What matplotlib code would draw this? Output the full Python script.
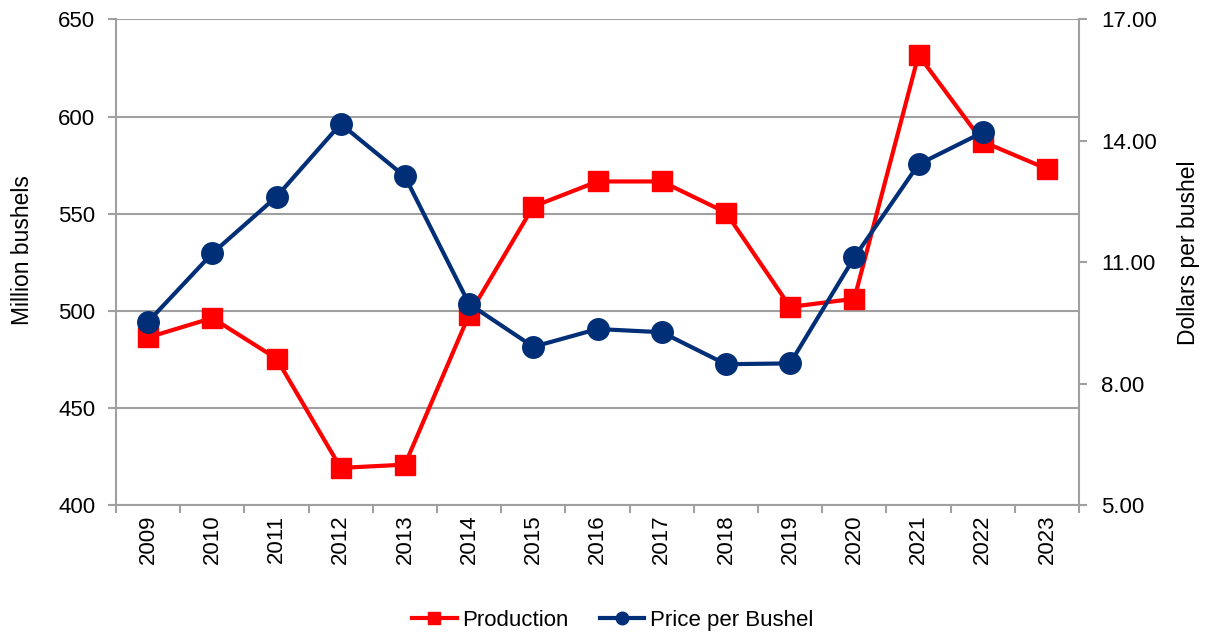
import matplotlib.pyplot as plt
from matplotlib.lines import Line2D

plt.rcParams['font.family'] = ['Liberation Sans', 'DejaVu Sans']

years = [str(y) for y in range(2009, 2024)]
production = [486.3, 496.3, 475.4, 419.1, 420.8, 498.0, 553.7, 566.6, 566.6,
              550.6, 502.0, 506.2, 631.7, 587.1, 573.1]
price = [9.53, 11.22, 12.62, 14.42, 13.12, 9.97, 8.91, 9.35, 9.27,
         8.48, 8.50, 11.12, 13.42, 14.21, None]

red = '#FF0000'
blue = '#002F78'
gray = '#A0A0A0'

fig = plt.figure(figsize=(12.06, 6.33), dpi=100)
ax = fig.add_axes([0.0962, 0.2022, 0.7985, 0.767])
ax2 = ax.twinx()

x = list(range(len(years)))
ax.plot(x, production, color=red, lw=3, marker='s', ms=14, zorder=3)
px = [i for i, v in zip(x, price) if v is not None]
pv = [v for v in price if v is not None]
ax2.plot(px, pv, color=blue, lw=3, marker='o', ms=15.5, zorder=3)

ax.set_xlim(-0.5, len(years) - 0.5)
ax.set_ylim(400, 650)
ax.set_yticks(range(400, 651, 50))
ax2.set_ylim(5, 17)
ax2.set_yticks([5, 8, 11, 14, 17])
ax2.set_yticklabels(['%.2f' % v for v in [5, 8, 11, 14, 17]])

ax.yaxis.grid(True, color=gray, lw=1.5)
ax.set_axisbelow(True)

# category ticks between the years, labels centred on them
ax.set_xticks([i - 0.5 for i in range(len(years) + 1)])
ax.set_xticklabels([])
ax.set_xticks(x, minor=True)
ax.set_xticklabels(years, minor=True, rotation=90)
ax.tick_params(axis='x', which='minor', length=0, pad=7, labelsize=16)
ax.tick_params(axis='x', which='major', length=6, color=gray, width=1.5)
ax.tick_params(axis='y', length=6, color=gray, width=1.5, labelsize=16, pad=9)
ax2.tick_params(axis='y', length=6, color=gray, width=1.5, labelsize=16, pad=10)

for a in (ax, ax2):
    for s in a.spines.values():
        s.set_visible(False)
ax.spines['left'].set_visible(True)
ax.spines['left'].set_color(gray)
ax.spines['left'].set_linewidth(1.5)
ax.spines['bottom'].set_visible(True)
ax.spines['bottom'].set_color(gray)
ax.spines['bottom'].set_linewidth(1.5)
ax2.spines['right'].set_visible(True)
ax2.spines['right'].set_color(gray)
ax2.spines['right'].set_linewidth(1.5)

ax.set_ylabel('Million bushels', fontsize=16.5)
ax2.set_ylabel('Dollars per bushel', fontsize=16.5)
ax.yaxis.label.set_va('center')
ax2.yaxis.label.set_va('center')
ax.yaxis.set_label_coords(-0.0976, 0.525)
ax2.yaxis.set_label_coords(1.1142, 0.52)

handles = [Line2D([], [], color=red, lw=3, marker='s', ms=9),
           Line2D([], [], color=blue, lw=3, marker='o', ms=9)]
fig.legend(handles, ['Production', 'Price per Bushel'], loc='center',
           bbox_to_anchor=(0.508, 0.02), ncol=2, frameon=False, fontsize=16,
           handlelength=2.0, handletextpad=0.25, columnspacing=1.4)

fig.savefig('out.png', dpi=100)
